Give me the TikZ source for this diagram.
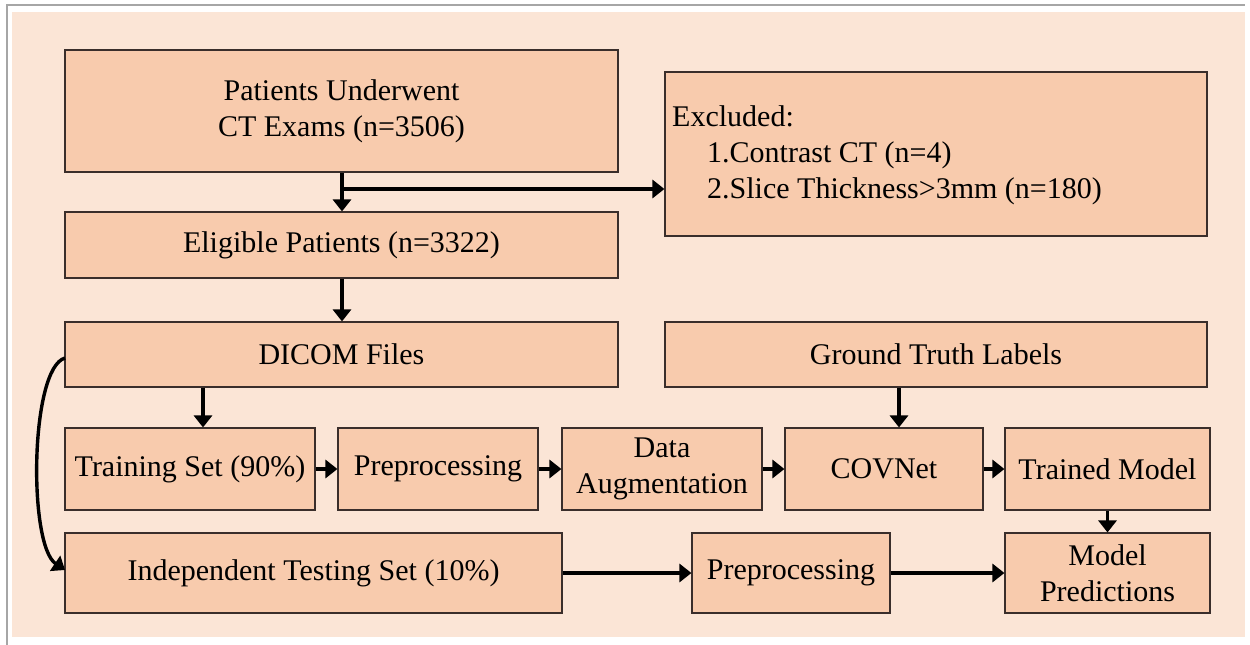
\documentclass[tikz,border=0pt]{standalone}
\usepackage{fontspec}
\setmainfont{Liberation Serif}
\usetikzlibrary{arrows.meta}
\definecolor{panel}{HTML}{FBE5D6}
\definecolor{boxfill}{HTML}{F8CBAD}
\definecolor{boxline}{HTML}{3A2E2B}
\definecolor{frameline}{HTML}{A6A6A6}
\tikzset{
  stepbox/.style={draw=boxline, line width=1.1pt, fill=boxfill, inner sep=0pt,
    align=center, font=\rmfamily\fontsize{30}{36}\selectfont},
  flow/.style={line width=3.4pt, -{Triangle[length=12pt,width=18pt]}},
}
\newcommand{\boxat}[6]{% name, x1, y1, x2, y2, text
  \node[stepbox, minimum width={#4-#2}, minimum height={#5-#3}]
    (#1) at ({(#2+#4)/2},{(#3+#5)/2}) {#6};}
\begin{document}
\begin{tikzpicture}[x=1pt,y=-1pt]
\useasboundingbox (0,0) rectangle (1250,645);
\fill[white] (0,0) rectangle (1250,645);
% outer frame
\fill[panel] (12,12) rectangle (1245,637);
\draw[frameline, line width=2pt] (7,645) -- (7,5) -- (1245,5);

% boxes
\boxat{pat}{65}{50}{618}{172}{Patients Underwent\\CT Exams (n=3506)}
\boxat{exc}{665}{72}{1207}{236}{}
\node[anchor=west, align=left, inner sep=0pt, font=\rmfamily\fontsize{30}{36}\selectfont]
  (exctxt) at (672,155) {Excluded:\\\hspace*{35pt}1.Contrast CT (n=4)\\\hspace*{35pt}2.Slice Thickness>3mm (n=180)};
\boxat{eli}{65}{212}{618}{278}{Eligible Patients (n=3322)}
\boxat{dic}{65}{322}{618}{387}{DICOM Files}
\boxat{gt}{665}{322}{1207}{387}{Ground Truth Labels}
\boxat{trn}{65}{428}{315}{510}{Training Set (90\%)}
\boxat{pre1}{338}{428}{538}{510}{Preprocessing}
\boxat{aug}{562}{428}{762}{510}{Data\\Augmentation}
\boxat{cov}{785}{428}{983}{510}{COVNet}
\boxat{trm}{1005}{428}{1210}{510}{Trained Model}
\boxat{ind}{65}{533}{562}{613}{Independent Testing Set (10\%)}
\boxat{pre2}{692}{533}{890}{613}{Preprocessing}
\boxat{mp}{1005}{533}{1210}{613}{Model\\Predictions}

% connectors
\coordinate (split) at (342,189);
\draw[line width=3.4pt] (pat.south -| split) -- (split);
\draw[flow] (split) -- (eli.north -| split);
\draw[flow] (split) -- (split -| exc.west);
\draw[flow] (eli.south -| split) -- (dic.north -| split);
\coordinate (dtx) at (203,0);
\draw[flow] (dic.south -| dtx) -- (trn.north -| dtx);
\coordinate (gcx) at (899,0);
\draw[flow] (gt.south -| gcx) -- (cov.north -| gcx);
\draw[flow] (trn) -- (pre1);
\draw[flow] (pre1) -- (aug);
\draw[flow] (aug) -- (cov);
\draw[flow] (cov) -- (trm);
\draw[flow] (trm) -- (mp);
\draw[flow] (ind) -- (pre2);
\draw[flow] (pre2) -- (mp);
\coordinate (cs) at (65,358);
\coordinate (ce) at (65,570);
\draw[flow] (cs) .. controls (30,368) and (28,545) .. (ce);
\end{tikzpicture}
\end{document}
